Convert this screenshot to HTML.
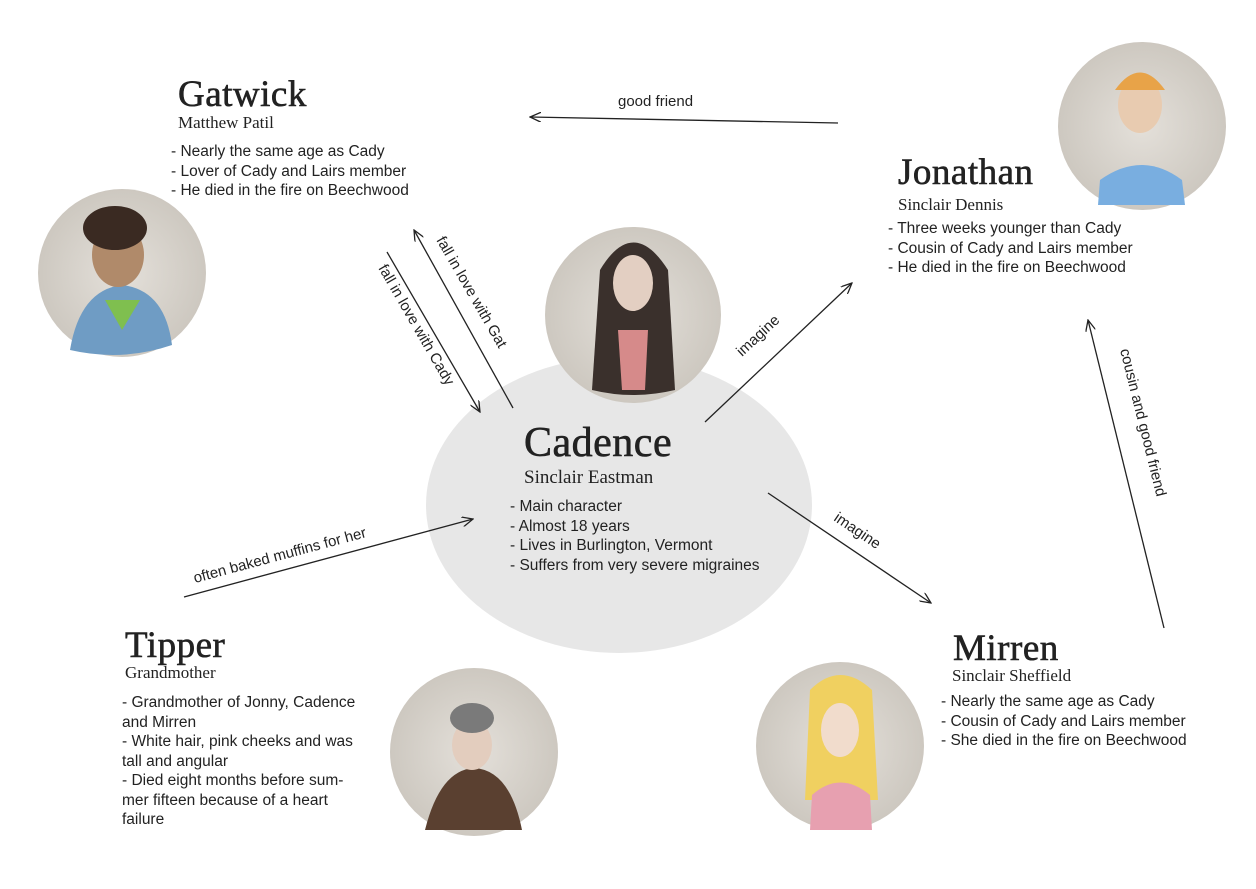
<!DOCTYPE html>
<html><head><meta charset="utf-8"><style>
body{margin:0;width:1256px;height:889px;background:#fff;position:relative;overflow:hidden;font-family:"Liberation Sans",sans-serif;color:#222}
.t{position:absolute;font-family:"Liberation Serif",serif;font-size:37px;line-height:1;letter-spacing:0.5px;-webkit-text-stroke:0.6px #222}
.s{position:absolute;font-family:"Liberation Serif",serif;font-size:17px;line-height:1}
.b{position:absolute;font-size:15.5px;line-height:19.5px}
</style></head><body>
<svg width="1256" height="889" style="position:absolute;left:0;top:0">
<defs>
<marker id="a" markerWidth="12" markerHeight="10" refX="11" refY="5" orient="auto" markerUnits="userSpaceOnUse"><path d="M0,0 L11,5 L0,10" fill="none" stroke="#222" stroke-width="1.3"/></marker>
<radialGradient id="g"><stop offset="0" stop-color="#e4e0da"/><stop offset="1" stop-color="#cdc8c0"/></radialGradient>
</defs>
<ellipse cx="619" cy="505" rx="193" ry="148" fill="#e7e7e7"/>
<g fill="url(#g)">
<circle cx="122" cy="273" r="84"/><circle cx="633" cy="315" r="88"/>
<circle cx="1142" cy="126" r="84"/><circle cx="474" cy="752" r="84"/><circle cx="840" cy="746" r="84"/>
</g>
<path d="M70,350 Q80,290 122,285 Q165,290 172,345 Q122,362 70,350Z" fill="#6f9cc4"/>
<path d="M105,300 L122,330 L140,300Z" fill="#7fbf4f"/>
<ellipse cx="118" cy="255" rx="26" ry="32" fill="#b08a6a"/>
<ellipse cx="115" cy="228" rx="32" ry="22" fill="#3a2a22"/>
<path d="M600,270 Q633,215 668,270 L675,390 Q633,400 592,390Z" fill="#3a302c"/>
<ellipse cx="633" cy="283" rx="20" ry="28" fill="#e3cfc2"/>
<path d="M618,330 L648,330 L645,390 L622,390Z" fill="#d68a8a"/>
<path d="M1100,180 Q1142,150 1182,180 L1185,205 L1098,205Z" fill="#79aee0"/>
<ellipse cx="1140" cy="105" rx="22" ry="28" fill="#e8cbb0"/>
<path d="M1115,90 Q1140,55 1165,90Z" fill="#e8a348"/>
<path d="M425,830 Q440,770 474,768 Q510,770 522,830Z" fill="#5a4030"/>
<ellipse cx="472" cy="745" rx="20" ry="25" fill="#e3cdbe"/>
<ellipse cx="472" cy="718" rx="22" ry="15" fill="#7a7a7a"/>
<path d="M810,690 Q840,660 872,690 L878,800 L805,800Z" fill="#f0d060"/>
<ellipse cx="840" cy="730" rx="19" ry="27" fill="#f1dccc"/>
<path d="M812,795 Q840,770 870,795 L872,830 L810,830Z" fill="#e7a0b0"/>
<g stroke="#222" stroke-width="1.3" fill="none" marker-end="url(#a)">
<line x1="838" y1="123" x2="530" y2="117"/>
<line x1="513" y1="408" x2="414" y2="230"/>
<line x1="387" y1="252" x2="480" y2="412"/>
<line x1="705" y1="422" x2="852" y2="283"/>
<line x1="768" y1="493" x2="931" y2="603"/>
<line x1="1164" y1="628" x2="1088" y2="320"/>
<line x1="184" y1="597" x2="473" y2="519"/>
</g>
<g font-family="Liberation Sans,sans-serif" font-size="15" fill="#222">
<text x="618" y="106">good friend</text>
<text transform="translate(436,240) rotate(60)">fall in love with Gat</text>
<text transform="translate(378,268) rotate(60)">fall in love with Cady</text>
<text transform="translate(742,357) rotate(-43)">imagine</text>
<text transform="translate(833,520) rotate(34)">imagine</text>
<text transform="translate(1120,350) rotate(76)">cousin and good friend</text>
<text transform="translate(195,583) rotate(-15)">often baked muffins for her</text>
</g>
</svg>
<div class="t" style="left:178px;top:76px">Gatwick</div>
<div class="s" style="left:178px;top:114px">Matthew Patil</div>
<div class="b" style="left:171px;top:142px">- Nearly the same age as Cady<br>- Lover of Cady and Lairs member<br>- He died in the fire on Beechwood</div>
<div class="t" style="left:898px;top:154px">Jonathan</div>
<div class="s" style="left:898px;top:196px">Sinclair Dennis</div>
<div class="b" style="left:888px;top:219px">- Three weeks younger than Cady<br>- Cousin of Cady and Lairs member<br>- He died in the fire on Beechwood</div>
<div class="t" style="left:524px;top:422px;font-size:42px">Cadence</div>
<div class="s" style="left:524px;top:468px;font-size:19px">Sinclair Eastman</div>
<div class="b" style="left:510px;top:497px">- Main character<br>- Almost 18 years<br>- Lives in Burlington, Vermont<br>- Suffers from very severe migraines</div>
<div class="t" style="left:125px;top:627px">Tipper</div>
<div class="s" style="left:125px;top:664px">Grandmother</div>
<div class="b" style="left:122px;top:693px">- Grandmother of Jonny, Cadence<br>and Mirren<br>- White hair, pink cheeks and was<br>tall and angular<br>- Died eight months before sum-<br>mer fifteen because of a heart<br>failure</div>
<div class="t" style="left:953px;top:630px">Mirren</div>
<div class="s" style="left:952px;top:667px">Sinclair Sheffield</div>
<div class="b" style="left:941px;top:692px">- Nearly the same age as Cady<br>- Cousin of Cady and Lairs member<br>- She died in the fire on Beechwood</div>
</body></html>
